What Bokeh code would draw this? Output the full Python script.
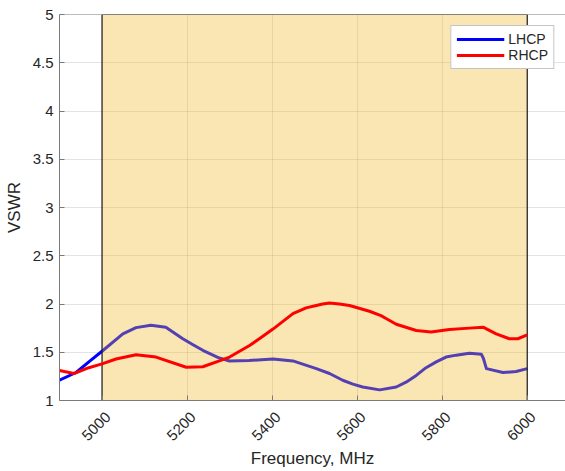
from bokeh.plotting import figure
from bokeh.models import Range1d, FixedTicker, Span, Legend, LegendItem, LinearAxis
from bokeh.embed import file_html
from bokeh.resources import INLINE

# ---- data ----
freq_lhcp = [4900, 4939, 4969, 5000, 5049, 5080, 5115, 5150, 5190, 5213, 5237, 5276, 5300,
             5346, 5402, 5449, 5504, 5535, 5566, 5590, 5613, 5653, 5692, 5715, 5739,
             5762, 5786, 5809, 5833, 5864, 5892, 5897, 5904, 5943, 5974, 6000]
lhcp = [1.21, 1.29, 1.40, 1.51, 1.69, 1.755, 1.78, 1.76, 1.64, 1.58, 1.52, 1.44, 1.41,
        1.415, 1.43, 1.41, 1.33, 1.28, 1.21, 1.17, 1.14, 1.11, 1.14, 1.19, 1.26,
        1.34, 1.40, 1.45, 1.47, 1.49, 1.48, 1.435, 1.33, 1.29, 1.30, 1.33]

freq_rhcp = [4900, 4934, 4969, 5000, 5033, 5080, 5127, 5198, 5237, 5276, 5300, 5347, 5370,
             5402, 5449, 5480, 5504, 5519, 5535, 5558, 5582, 5629, 5656, 5668, 5692,
             5739, 5774, 5817, 5864, 5896, 5927, 5958, 5978, 6000]
rhcp = [1.31, 1.28, 1.34, 1.38, 1.43, 1.475, 1.45, 1.345, 1.35, 1.41, 1.45, 1.57, 1.64,
        1.74, 1.90, 1.96, 1.985, 2.0, 2.01, 2.0, 1.985, 1.925, 1.88, 1.85, 1.79,
        1.725, 1.71, 1.735, 1.75, 1.76, 1.69, 1.64, 1.64, 1.68]

band = [5000, 6000]            # highlighted frequency band
x_ticks = [5000, 5200, 5400, 5600, 5800, 6000]
y_ticks = [1, 1.5, 2, 2.5, 3, 3.5, 4, 4.5, 5]
x_limits = [4900, 6090]
y_limits = [1, 5]

FONT = "Liberation Sans"
TXT = "#262626"
AX = "#7a7a7a"

p = figure(width=565, height=471, output_backend="svg", toolbar_location=None,
           x_range=Range1d(*x_limits), y_range=Range1d(*y_limits),
           min_border_left=59, min_border_right=0, min_border_top=14,
           min_border_bottom=71)
p.background_fill_color = "white"
p.border_fill_color = "white"
p.outline_line_color = None

# main x axis: only the axis line and inward tick marks (drawn as minor ticks, no labels)
xa = p.xaxis[0]
xa.ticker = FixedTicker(ticks=[], minor_ticks=x_ticks)
xa.axis_line_color = AX
xa.major_tick_line_color = None
xa.minor_tick_line_color = AX
xa.minor_tick_in = 5
xa.minor_tick_out = 0

ya = p.yaxis[0]
ya.ticker = FixedTicker(ticks=y_ticks)
ya.axis_line_color = AX
ya.major_tick_line_color = AX
ya.major_tick_in = 5
ya.major_tick_out = 0
ya.minor_tick_line_color = None
ya.major_label_text_font = FONT
ya.major_label_text_font_size = "15px"
ya.major_label_text_color = TXT
ya.major_label_standoff = 6
ya.axis_label = "VSWR"
ya.axis_label_standoff = 6
ya.axis_label_text_font = FONT
ya.axis_label_text_font_size = "17px"
ya.axis_label_text_font_style = "normal"
ya.axis_label_text_color = TXT

# label axis: range shifted a few pixels so rotated labels sit like the reference
shift = 6 / 0.425
p.extra_x_ranges = {"lab": Range1d(x_limits[0] - shift, x_limits[1] - shift)}
lab_axis = LinearAxis(x_range_name="lab", ticker=FixedTicker(ticks=x_ticks),
                      axis_line_color=None, major_tick_line_color=None,
                      minor_tick_line_color=None,
                      major_label_orientation=0.7854, major_label_standoff=8,
                      major_label_text_font=FONT, major_label_text_font_size="15px",
                      major_label_text_color=TXT,
                      axis_label="Frequency, MHz", axis_label_standoff=1,
                      axis_label_text_font=FONT, axis_label_text_font_size="17px",
                      axis_label_text_font_style="normal", axis_label_text_color=TXT)
p.add_layout(lab_axis, "below")

p.xgrid.ticker = FixedTicker(ticks=x_ticks)
p.ygrid.ticker = FixedTicker(ticks=y_ticks)
for g in (p.xgrid[0], p.ygrid[0]):
    g.grid_line_color = "#262626"
    g.grid_line_alpha = 0.13
    g.grid_line_width = 1

top = Span(location=y_limits[1], dimension="width", line_color=AX, line_width=1)
p.add_layout(top)

r1 = p.line(freq_lhcp, lhcp, line_color="#0000ff", line_width=3, line_join="round")

p.quad(left=band[0], right=band[1], bottom=y_limits[0], top=y_limits[1],
       fill_color=(240, 182, 36), fill_alpha=0.35,
       line_color="#1a1a1a", line_width=1.2)

r2 = p.line(freq_rhcp, rhcp, line_color="#ff0000", line_width=3, line_join="round")

legend = Legend(items=[LegendItem(label="LHCP", renderers=[r1]),
                       LegendItem(label="RHCP", renderers=[r2])],
                location="top_right")
legend.margin = 11
legend.padding = 5
legend.spacing = 0
legend.glyph_width = 48
legend.glyph_height = 16
legend.label_height = 16
legend.label_standoff = 4
legend.label_text_font = FONT
legend.label_text_font_size = "14px"
legend.label_text_color = TXT
legend.border_line_color = "#8c8c8c"
legend.border_line_width = 1
legend.background_fill_color = "white"
legend.background_fill_alpha = 1
p.add_layout(legend)

open("out.html", "w").write(file_html(p, INLINE))
